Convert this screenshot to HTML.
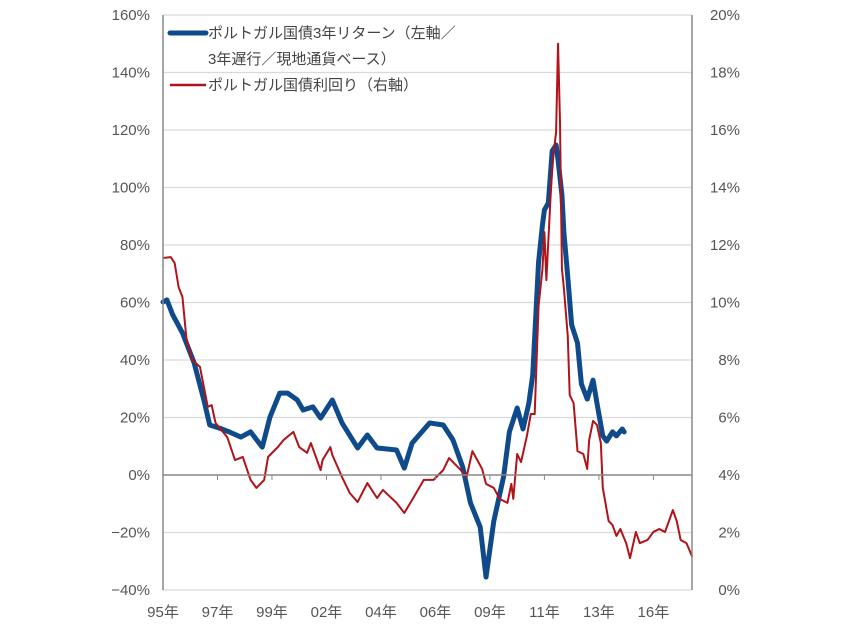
<!DOCTYPE html>
<html><head><meta charset="utf-8">
<style>
html,body{margin:0;padding:0;background:#fff;}
svg{display:block;font-family:"Liberation Sans","Noto Sans CJK JP",sans-serif;}
</style></head>
<body>
<svg id="chart" width="854" height="632" viewBox="0 0 854 632" xmlns="http://www.w3.org/2000/svg">
<g id="grid"></g>
<g id="lines"></g>
<g id="axes"></g>
<g id="legend">
  <line x1="170" y1="33" x2="206" y2="33" stroke="#0f4a8b" stroke-width="5" stroke-linecap="round"/>
  <text x="208" y="38" font-size="15" fill="#444">ポルトガル国債3年リターン（左軸／</text>
  <text x="208" y="64" font-size="15" fill="#444">3年遅行／現地通貨ベース）</text>
  <line x1="170" y1="85" x2="206" y2="85" stroke="#b0141a" stroke-width="2.5"/>
  <text x="208" y="90" font-size="15" fill="#444">ポルトガル国債利回り（右軸）</text>
</g>
</svg>
<script>
const xTickMonths=[0,28,56,84,112,140,168,196,224,252];
const xTickLabels=["95年","97年","99年","02年","04年","06年","09年","11年","13年","16年"];
const leftTicks=[-40,-20,0,20,40,60,80,100,120,140,160];
const rightTicks=[0,2,4,6,8,10,12,14,16,18,20];
const returnMonths=[0,2,5,10,16,21,24,29,34,40,45,51,55,60,64,69,72,77,81,87,92,100,105,110,120,124,128,137,144,149,154,158,163,166,170,175,178,182,185,188,190,193,195,196,198,200,202,203,205,206,208,210,213,215,218,221,223,226,228,231,233,236,237];
const returnValues=[60.2,60.9,55.7,49.4,39.0,26.1,17.4,16.3,15.0,13.2,15.0,9.7,20.2,28.5,28.5,26.1,22.6,23.7,19.8,26.1,18.1,9.4,13.9,9.4,8.7,2.4,11.1,18.1,17.4,12.2,2.8,-9.7,-18.1,-35.5,-16.0,-0.7,15.0,23.3,16.0,25.0,34.8,74.1,87.0,92.2,94.6,112.7,114.8,109.6,97.4,84.5,68.9,52.2,45.9,31.7,26.4,33.0,25.0,13.6,11.8,15.0,13.6,16.0,15.0];
const yieldMonths=[0,4,6,8,10,12,15,19,23,25,27,33,37,41,45,48,52,54,59,62,67,70,74,76,81,82,86,87,92,96,100,105,110,113,120,124,128,134,139,144,147,153,156,159,164,166,170,173,177,179,180,182,184,187,189,191,193,195,196,197,199,200,202,203,204,205,206,208,209,211,213,216,218,219,221,223,225,226,229,231,233,235,238,240,243,245,249,252,255,258,262,264,266,269,272];
const yieldValues=[11.55,11.58,11.37,10.54,10.19,8.77,8.0,7.76,6.37,6.43,5.81,5.32,4.52,4.63,3.83,3.55,3.83,4.63,4.97,5.22,5.50,4.97,4.77,5.11,4.17,4.52,4.97,4.70,3.93,3.37,3.06,3.72,3.20,3.48,3.03,2.68,3.13,3.83,3.83,4.17,4.59,4.17,3.93,4.83,4.21,3.69,3.55,3.17,3.03,3.69,3.17,4.73,4.45,5.36,6.12,6.12,9.88,11.17,12.45,10.78,13.46,14.75,15.93,19.0,16.3,11.17,10.50,8.83,6.78,6.50,4.83,4.73,4.21,5.22,5.88,5.74,5.11,3.55,2.40,2.26,1.88,2.12,1.63,1.11,2.02,1.63,1.74,2.02,2.12,2.02,2.78,2.40,1.74,1.63,1.15];

const NS="http://www.w3.org/2000/svg";
const X0=163,X1=692,Y0=15,Y1=590,PXM=1.946;
function xS(m){return X0+m*PXM;}
function yL(v){return Y1-(v+40)/200*(Y1-Y0);}
function yR(v){return Y1-v/20*(Y1-Y0);}
function mk(tag,attrs,parent){const e=document.createElementNS(NS,tag);for(const k in attrs)e.setAttribute(k,attrs[k]);parent.appendChild(e);return e;}
const grid=document.getElementById('grid'),axes=document.getElementById('axes'),lines=document.getElementById('lines');

leftTicks.forEach((v,i)=>{
  const y=yL(v);
  if(v!==0&&v!==-40){
    const g=mk('line',{x1:X0,x2:X1,y1:y,y2:y,stroke:'#d9d9d9','stroke-width':1.2},grid);
    
    
  }
  const t=mk('text',{x:150,y:y+5,'text-anchor':'end','font-size':15,fill:'#555'},axes);
  t.textContent=(v<0?'−':'')+Math.abs(v)+'%';
  
  
});
rightTicks.forEach(v=>{
  const y=yR(v);
  const t=mk('text',{x:740,y:y+5,'text-anchor':'end','font-size':15,fill:'#555'},axes);
  t.textContent=v+'%';
  
  
});
const zl=mk('line',{x1:X0,x2:X1,y1:yL(0),y2:yL(0),stroke:'#888','stroke-width':1.5},axes);


const bl=mk('line',{x1:X0,x2:X1,y1:Y1,y2:Y1,stroke:'#d9d9d9','stroke-width':1.2},axes);


const la=mk('line',{x1:X0,x2:X0,y1:Y0,y2:Y1,stroke:'#888','stroke-width':1.5},axes);


const ra=mk('line',{x1:X1,x2:X1,y1:Y0,y2:Y1,stroke:'#888','stroke-width':1.5},axes);


xTickMonths.forEach((m,i)=>{
  const x=xS(m);
  const tk=mk('line',{x1:x,x2:x,y1:yL(0),y2:yL(0)+5,stroke:'#888','stroke-width':1},axes);
  
  
  const t=mk('text',{x:x,y:617,'text-anchor':'middle','font-size':15,fill:'#555'},axes);
  t.textContent=xTickLabels[i];
  
  
});
const yp=mk('polyline',{points:yieldMonths.map((m,i)=>xS(m)+','+yR(yieldValues[i])).join(' '),fill:'none',stroke:'#b0141a','stroke-width':2,'stroke-linejoin':'round'},lines);
const rp=mk('polyline',{points:returnMonths.map((m,i)=>xS(m)+','+yL(returnValues[i])).join(' '),fill:'none',stroke:'#0f4a8b','stroke-width':5,'stroke-linejoin':'round','stroke-linecap':'round'},lines);


lines.appendChild(yp);


</script>
</body></html>
